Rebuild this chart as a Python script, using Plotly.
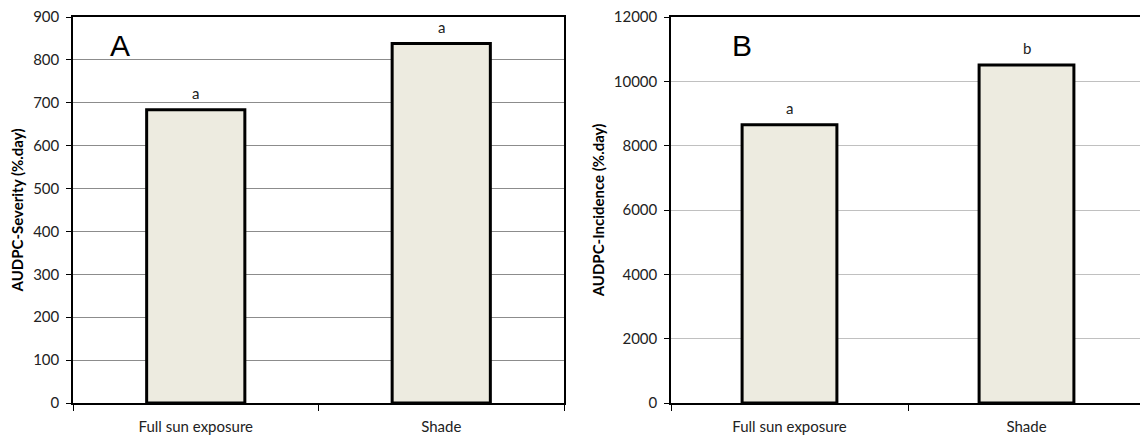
import plotly.graph_objects as go

categories = ["Full sun exposure", "Shade"]
severity = [684, 838]
incidence = [8650, 10510]
severity_letters = ["a", "a"]
incidence_letters = ["a", "b"]

W, H = 1140, 436
fill = "#EDEBE0"
tickfont = dict(family="Lato, Open Sans, sans-serif", size=15, color="#222")
letterfont = dict(family="Lato, sans-serif", size=15, color="#222")
titlefont = dict(family="Lato, sans-serif", size=15, color="black")

fig = go.Figure()
fig.add_trace(go.Bar(x=categories, y=severity, width=0.4, marker=dict(color=fill, line=dict(color="black", width=3)),
                     xaxis="x", yaxis="y", showlegend=False))
fig.add_trace(go.Bar(x=categories, y=incidence, width=0.4, marker=dict(color=fill, line=dict(color="black", width=3)),
                     xaxis="x2", yaxis="y2", showlegend=False))

ann = []
for c, v, l in zip(categories, severity, severity_letters):
    ann.append(dict(x=c, y=v, xref="x", yref="y", text=l, showarrow=False, yanchor="bottom", yshift=6,
                    font=letterfont))
for c, v, l in zip(categories, incidence, incidence_letters):
    ann.append(dict(x=c, y=v, xref="x2", yref="y2", text=l, showarrow=False, yanchor="bottom", yshift=6,
                    font=letterfont))
ann.append(dict(x=0.096, y=0.925, xref="x domain", yref="y domain", text="A", showarrow=False,
                xanchor="center", yanchor="middle",
                font=dict(family="Liberation Sans, Arial", size=30, color="black")))
ann.append(dict(x=0.151, y=0.925, xref="x2 domain", yref="y2 domain", text="B", showarrow=False,
                xanchor="center", yanchor="middle",
                font=dict(family="Liberation Sans, Arial", size=30, color="black")))

common_x = dict(type="category", showline=True, linecolor="black", linewidth=1.5, mirror=True,
                ticks="outside", tickson="boundaries", ticklen=6, tickcolor="black", tickfont=tickfont,
                ticklabelstandoff=9, showgrid=False, zeroline=False, fixedrange=True)
common_y = dict(showline=True, linecolor="black", linewidth=1.5, ticks="outside", ticklen=5,
                tickcolor="black", tickfont=tickfont, tickformat="d", ticklabelstandoff=4,
                showgrid=True, gridwidth=1, zeroline=False)
fig.update_layout(
    width=W, height=H, margin=dict(l=0, r=0, t=17, b=33),
    paper_bgcolor="white", plot_bgcolor="white", bargap=0.6,
    xaxis=dict(domain=[73 / W, 564 / W], range=[-0.5, 1.5], anchor="y", **common_x),
    xaxis2=dict(domain=[671 / W, 1.0], range=[-0.5, -0.5 + 469 / 237], anchor="y2", **common_x),
    yaxis=dict(range=[0, 900], dtick=100, mirror=True, gridcolor="#8c8c8c", anchor="x",
               title=dict(text="<b>AUDPC-Severity (%.day)</b>", font=titlefont, standoff=6), **common_y),
    yaxis2=dict(range=[0, 12000], dtick=2000, mirror=False, gridcolor="#c0c0c0", anchor="x2",
                title=dict(text="<b>AUDPC-Incidence (%.day)</b>", font=titlefont, standoff=6), **common_y),
    annotations=ann,
)
fig.write_html("out.html")
